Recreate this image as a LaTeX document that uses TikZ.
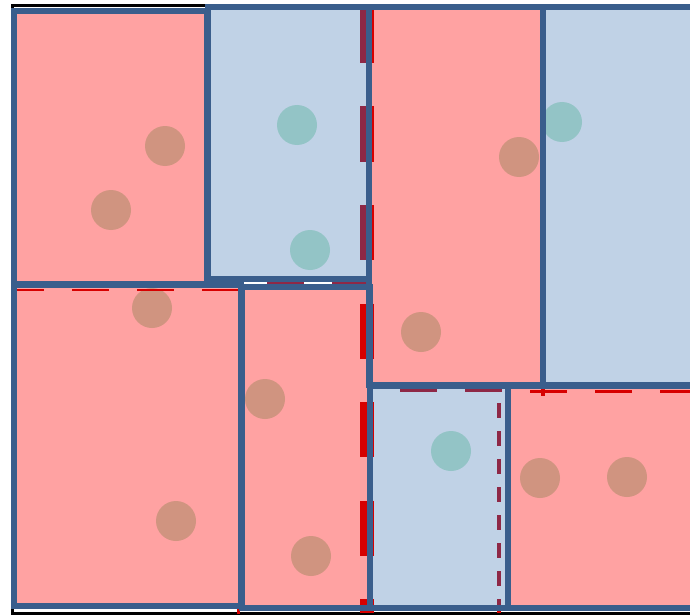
\documentclass[tikz,border=0pt]{standalone}
\usepackage{xcolor}
\usetikzlibrary{calc}

\definecolor{roomred}{RGB}{255,162,162}
\definecolor{roomblue}{RGB}{192,210,230}
\definecolor{wallblue}{RGB}{58,94,140}
\definecolor{dotred}{RGB}{208,148,128}
\definecolor{dotblue}{RGB}{147,196,198}
\definecolor{cutred}{RGB}{215,0,0}
\definecolor{cutdark}{RGB}{142,40,70}

\begin{document}
\begin{tikzpicture}[x=1pt, y=-1pt, line join=miter,
  wall/.style={draw=wallblue, line width=6pt},
  bigcut/.style={line width=14pt, dash pattern=on 55pt off 43.5pt},
  thincut/.style={line width=2.5pt, dash pattern=on 37pt off 28pt}]
\clip (0,0) rectangle (690,615);

%frame
  \draw[black, line width=3pt] (12,6) rectangle (700,613.5);

%rooms
  \foreach \xa/\ya/\xb/\yb/\col in {14/11/207/284/roomred, 208/7/369/279/roomblue,
      369/7/543/385/roomred, 543/7/700/385/roomblue, 14/285/241/606/roomred,
      242/287/370/608/roomred, 370/386/508/608/roomblue, 508/386/700/608/roomred}
    \fill[\col] (\xa,\ya) rectangle (\xb,\yb);

%dots
  \foreach \px/\py in {165/146, 111/210, 519/157, 152/308, 421/332,
      265/399, 176/521, 311/556, 540/478, 627/477}
    \fill[dotred] (\px,\py) circle (20pt);
  \foreach \px/\py in {297/125, 310/250, 562/122, 451/451}
    \fill[dotblue] (\px,\py) circle (20pt);

%cuts
  \draw[cutred, bigcut] (367,8) -- (367,613);
  \draw[cutdark, bigcut, line width=7pt] (363.5,8) -- (363.5,279);
  \draw[cutred, thincut, dash phase=10pt] (17,290) -- (238,290);
  \draw[cutdark, thincut, dash phase=8pt] (210,283) -- (368,283);
  \draw[cutdark, thincut] (400,390.5) -- (505,390.5);
  \draw[cutred, thincut, line width=3pt] (530,391) -- (700,391);
  \draw[cutdark, line width=4pt, dash pattern=on 15pt off 13pt] (499,403) -- (499,605);
  \draw[cutred, line width=4pt] (499,605) -- (499,613);
  \draw[cutred, line width=4pt] (543,386) -- (543,396);
  \draw[cutred, line width=3pt] (238,604) -- (238,614);

%walls
  \foreach \xa/\ya/\xb/\yb in {14/11/207/284, 208/7/369/279, 369/7/543/385,
      543/7/700/385, 14/285/241/606, 242/287/370/608, 370/386/508/608,
      508/386/700/608}
    \draw[wall] (\xa,\ya) rectangle (\xb,\yb);
\end{tikzpicture}
\end{document}
